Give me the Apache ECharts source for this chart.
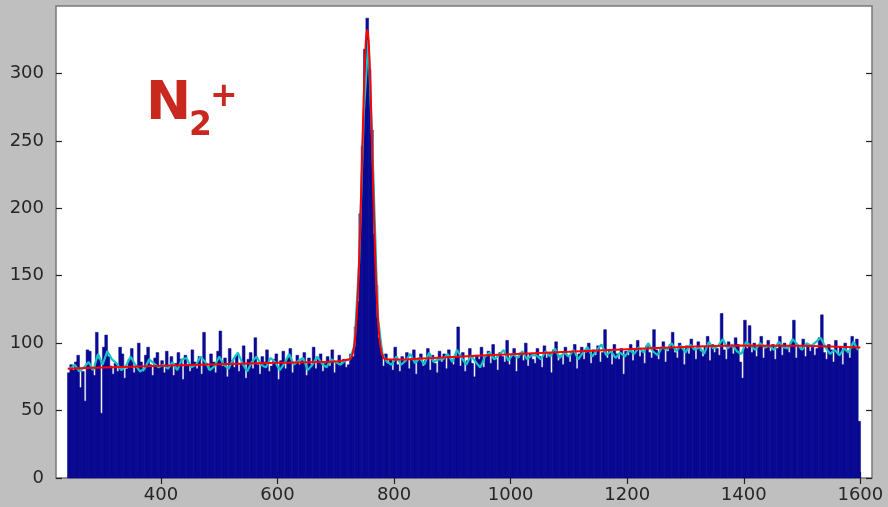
<!DOCTYPE html>
<html>
<head>
<meta charset="utf-8">
<script src="https://cdn.jsdelivr.net/npm/echarts@6/dist/echarts.min.js"></script>
<style>
  html, body { margin: 0; padding: 0; background: #bfbfbf; }
  #chart { width: 888px; height: 507px; }
</style>
</head>
<body>
<div id="chart"></div>
<script>
// histogram bins: 4 units wide, first centre 242, one row = 80 units
var binStart = 242;
var binWidth = 4;
var counts = [
  78, 84, 80, 86, 91, 67, 79, 57, 95, 94, 80, 76, 108, 88, 48, 97, 106, 90, 83, 77,
  85, 79, 97, 92, 74, 81, 88, 96, 78, 83, 100, 86, 79, 91, 97, 84, 76, 89, 93, 82,
  87, 78, 94, 82, 90, 76, 85, 93, 88, 73, 91, 84, 79, 95, 86, 81, 90, 77, 108, 85,
  80, 92, 86, 78, 94, 109, 83, 89, 75, 96, 87, 82, 91, 79, 85, 98, 74, 88, 93, 81,
  104, 84, 77, 90, 86, 95, 79, 83, 88, 92, 73, 87, 94, 81, 89, 96, 78, 85, 91, 84,
  87, 93, 76, 89, 84, 97, 81, 88, 92, 79, 85, 90, 83, 95, 78, 86, 91, 84, 88, 82,
  84, 92, 90, 112, 131, 196, 246, 318, 341, 303, 258, 181, 143, 104, 96, 83, 92, 85, 88, 80,
  97, 84, 79, 90, 86, 93, 81, 88, 95, 77, 89, 92, 83, 87, 96, 80, 91, 85, 78, 94,
  86, 92, 81, 95, 88, 84, 90, 112, 83, 93, 79, 87, 96, 85, 75, 91, 88, 97, 82, 90,
  94, 85, 99, 88, 80, 93, 90, 86, 102, 84, 91, 96, 79, 89, 93, 87, 100, 83, 92, 88,
  85, 96, 90, 82, 98, 89, 93, 78, 95, 101, 87, 91, 84, 97, 90, 86, 94, 99, 81, 92,
  97, 88, 93, 100, 85, 95, 91, 98, 86, 93, 110, 89, 95, 84, 99, 92, 88, 96, 77, 94,
  91, 99, 87, 96, 102, 90, 94, 85, 98, 93, 89, 110, 95, 88, 97, 101, 86, 94, 99, 108,
  93, 89, 100, 96, 84, 98, 92, 103, 95, 88, 101, 94, 90, 97, 105, 87, 99, 93, 96, 91,
  122, 95, 88, 101, 97, 92, 104, 99, 86, 74, 117, 96, 113, 93, 100, 90, 98, 105, 89, 96,
  102, 94, 99, 88, 96, 105, 91, 100, 97, 93, 101, 117, 89, 98, 95, 103, 90, 99, 94, 97,
  91, 96, 104, 121, 93, 88, 99, 95, 86, 102, 92, 97, 84, 100, 94, 89, 105, 98, 103, 42
];

// smoothed curve (cyan), one point every 8 units from 244
var smoothStart = 244;
var smoothStep = 8;
var smoothed = [
  81, 84, 79, 82, 86, 80, 92, 84, 94, 88,
  85, 80, 83, 90, 84, 79, 81, 88, 85, 82,
  84, 81, 86, 80, 88, 89, 82, 84, 90, 86,
  80, 83, 90, 84, 81, 88, 93, 85, 79, 86,
  90, 84, 82, 89, 86, 80, 85, 92, 84, 87,
  89, 80, 84, 90, 85, 82, 88, 86, 84, 87,
  88, 98, 160, 270, 325, 230, 120, 92, 86, 84,
  90, 84, 87, 92, 85, 89, 84, 93, 86, 88,
  88, 92, 86, 95, 89, 84, 91, 86, 82, 90,
  93, 88, 91, 95, 87, 92, 89, 94, 88, 91,
  91, 88, 94, 90, 96, 89, 93, 90, 95, 88,
  93, 97, 90, 95, 99, 91, 94, 89, 93, 90,
  95, 92, 97, 93, 100, 94, 91, 97, 95, 100,
  94, 98, 93, 99, 95, 97, 92, 101, 96, 98,
  103, 96, 99, 94, 92, 101, 98, 95, 100, 97,
  98, 95, 101, 97, 96, 103, 99, 95, 100, 98,
  101, 104, 97, 92, 95, 91, 96, 93, 101, 95
];

// fitted curve (red)
var fitX = [240, 300, 400, 500, 600, 700, 724, 726, 728, 730, 732, 734, 736, 738, 740, 742,
  744, 746, 748, 750, 752, 754, 756, 758, 760, 762, 764, 766, 768, 770, 772, 774, 776, 778,
  780, 782, 784, 800, 900, 1000, 1100, 1200, 1300, 1400, 1500, 1600];
var fitY = [81.0, 81.9, 83.2, 84.4, 85.5, 86.4, 88.0, 88.9, 90.8, 94.1, 99.4, 107.8, 120.3,
  137.5, 160.2, 187.8, 219.3, 252.1, 283.3, 309.1, 326.1, 332.2, 326.2, 309.2, 283.4, 252.3,
  219.5, 188.0, 160.4, 137.7, 120.5, 108.0, 99.6, 94.3, 91.1, 89.2, 88.3, 87.8, 89.8, 91.8,
  93.6, 95.5, 97.2, 98.2, 98.0, 96.8];

var xTicks = [400, 600, 800, 1000, 1200, 1400, 1600];
var yTicks = [0, 50, 100, 150, 200, 250, 300];

var histData = counts.map(function (v, i) { return [binStart + i * binWidth, v]; });
var smoothData = smoothed.map(function (v, i) { return [smoothStart + i * smoothStep, v]; });
var fitData = fitX.map(function (x, i) { return [x, fitY[i]]; });

var chart = echarts.init(document.getElementById('chart'), null, { renderer: 'canvas' });

var labelFont = { fontFamily: 'DejaVu Sans', fontSize: 18, color: '#262626' };
function plain(v) { return String(v); }

function xAxisConf(pos, showLabel) {
  return {
    type: 'value', position: pos, min: 220, max: 1620,
    axisLine: { show: false },
    splitLine: { show: false },
    axisTick: { show: true, inside: true, length: 6, customValues: xTicks,
      lineStyle: { color: '#222', width: 1.2 } },
    axisLabel: Object.assign({ show: showLabel, customValues: xTicks, margin: 8, formatter: plain }, labelFont)
  };
}
function yAxisConf(pos, showLabel) {
  return {
    type: 'value', position: pos, min: 0, max: 350,
    axisLine: { show: false },
    splitLine: { show: false },
    axisTick: { show: true, inside: true, length: 6, customValues: yTicks,
      lineStyle: { color: '#222', width: 1.2 } },
    axisLabel: Object.assign({ show: showLabel, customValues: yTicks, margin: 12, formatter: plain }, labelFont)
  };
}

chart.setOption({
  backgroundColor: '#bfbfbf',
  animation: false,
  grid: {
    left: 56, right: 16, top: 6, bottom: 29,
    containLabel: false, outerBoundsMode: 'none',
    show: true, backgroundColor: '#ffffff', borderColor: '#7a7a7a', borderWidth: 1.5
  },
  xAxis: [xAxisConf('bottom', true), xAxisConf('top', false)],
  yAxis: [yAxisConf('left', true), yAxisConf('right', false)],
  series: [
    {
      // histogram bars, bin edge to bin edge, a thin same-tone edge hides seams
      type: 'custom',
      data: histData,
      renderItem: function (params, api) {
        var x = api.value(0), y = api.value(1);
        var p0 = api.coord([x - binWidth / 2, y]);
        var p1 = api.coord([x + binWidth / 2, 0]);
        return {
          type: 'rect',
          shape: { x: p0[0] - 0.2, y: p0[1], width: p1[0] - p0[0] + 0.4, height: p1[1] - p0[1] },
          style: { fill: '#0a0a98', stroke: '#07077f', lineWidth: 0.5 }
        };
      },
      z: 1
    },
    {
      type: 'line',
      data: smoothData,
      showSymbol: false,
      lineStyle: { color: '#12c4c4', width: 2.2 },
      z: 2
    },
    {
      type: 'line',
      data: fitData,
      showSymbol: false,
      smooth: 0.2,
      lineStyle: { color: '#ff0000', width: 2 },
      z: 3
    }
  ],
  graphic: [
    { type: 'text', x: 146, y: 105, style: { text: 'N', font: 'bold 54px "DejaVu Sans"', fill: '#c9281f', textVerticalAlign: 'middle' } },
    { type: 'text', x: 189, y: 126, style: { text: '2', font: 'bold 33px "DejaVu Sans"', fill: '#c9281f', textVerticalAlign: 'middle' } },
    { type: 'text', x: 210, y: 97, style: { text: '+', font: 'bold 33px "DejaVu Sans"', fill: '#c9281f', textVerticalAlign: 'middle' } }
  ]
});
</script>
</body>
</html>
